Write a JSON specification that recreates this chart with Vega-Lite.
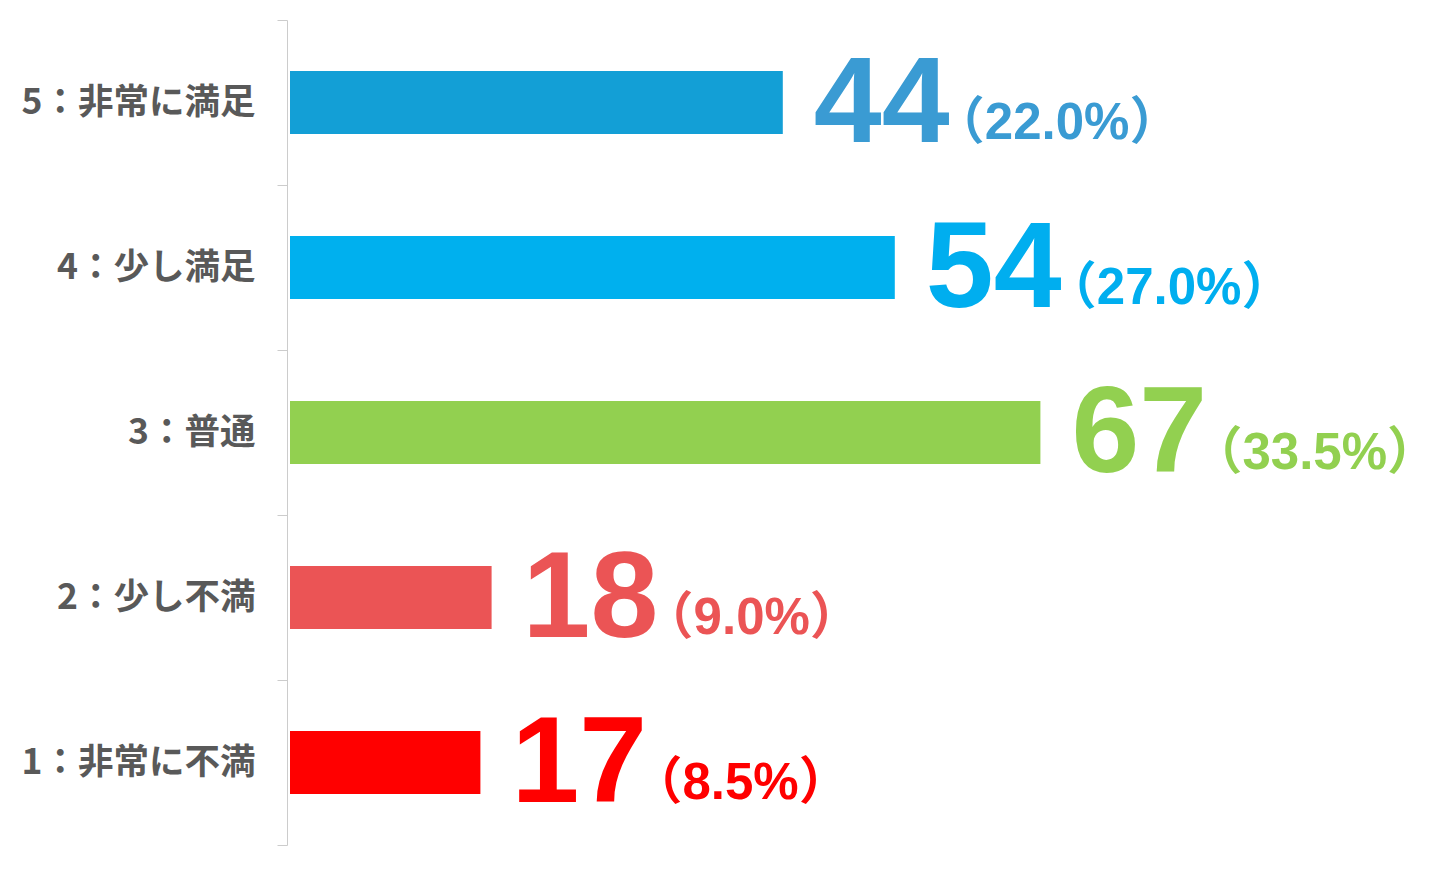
{
  "$schema": "https://vega.github.io/schema/vega-lite/v6.json",
  "autosize": {"type": "none"},
  "width": 1120,
  "height": 825,
  "padding": {"left": 290, "top": 20, "right": 30, "bottom": 29},
  "background": "white",
  "config": {"view": {"stroke": null}},
  "data": {
    "values": [
      {"label": "5：非常に満足", "count": 44, "pct": "（22.0%）"},
      {"label": "4：少し満足", "count": 54, "pct": "（27.0%）"},
      {"label": "3：普通", "count": 67, "pct": "（33.5%）"},
      {"label": "2：少し不満", "count": 18, "pct": "（9.0%）"},
      {"label": "1：非常に不満", "count": 17, "pct": "（8.5%）"}
    ]
  },
  "encoding": {
    "y": {
      "field": "label",
      "type": "nominal",
      "sort": null,
      "scale": {"paddingInner": 0, "paddingOuter": 0},
      "axis": {
        "title": null,
        "tickBand": "extent",
        "domainColor": "#cccccc",
        "tickColor": "#cccccc",
        "tickSize": 10,
        "labelPadding": 22,
        "labelLimit": 500,
        "labelFont": "Noto Sans CJK JP",
        "labelFontWeight": "bold",
        "labelFontSize": 35.5,
        "labelColor": "#595959",
        "labelBaseline": "middle",
        "offset": 3
      }
    }
  },
  "layer": [
    {
      "mark": {"type": "bar", "height": {"band": 0.382}},
      "encoding": {
        "x": {"field": "count", "type": "quantitative", "scale": {"domain": [0, 100]}, "axis": null},
        "color": {
          "field": "label",
          "type": "nominal",
          "scale": {
            "domain": ["5：非常に満足", "4：少し満足", "3：普通", "2：少し不満", "1：非常に不満"],
            "range": ["#139fd6", "#00b0ee", "#92d050", "#eb5455", "#ff0000"]
          },
          "legend": null
        }
      }
    },
    {
      "mark": {"type": "text", "align": "left", "baseline": "alphabetic", "dx": 31, "dy": 39, "font": "Liberation Sans", "fontWeight": "bold", "fontSize": 122},
      "encoding": {
        "x": {"field": "count", "type": "quantitative"},
        "text": {"field": "count"},
        "color": {
          "field": "label",
          "type": "nominal",
          "scale": {
            "domain": ["5：非常に満足", "4：少し満足", "3：普通", "2：少し不満", "1：非常に不満"],
            "range": ["#3a9bd3", "#00aeef", "#92d050", "#eb5455", "#ff0000"]
          },
          "legend": null
        }
      }
    },
    {
      "mark": {"type": "text", "align": "left", "baseline": "alphabetic", "dx": 151, "dy": 36, "font": "Liberation Sans, Noto Sans CJK JP", "fontWeight": "bold", "fontSize": 51},
      "encoding": {
        "x": {"field": "count", "type": "quantitative"},
        "text": {"field": "pct"},
        "color": {
          "field": "label",
          "type": "nominal",
          "scale": {
            "domain": ["5：非常に満足", "4：少し満足", "3：普通", "2：少し不満", "1：非常に不満"],
            "range": ["#3a9bd3", "#00aeef", "#92d050", "#eb5455", "#ff0000"]
          },
          "legend": null
        }
      }
    }
  ],
  "resolve": {"scale": {"color": "independent"}}
}
